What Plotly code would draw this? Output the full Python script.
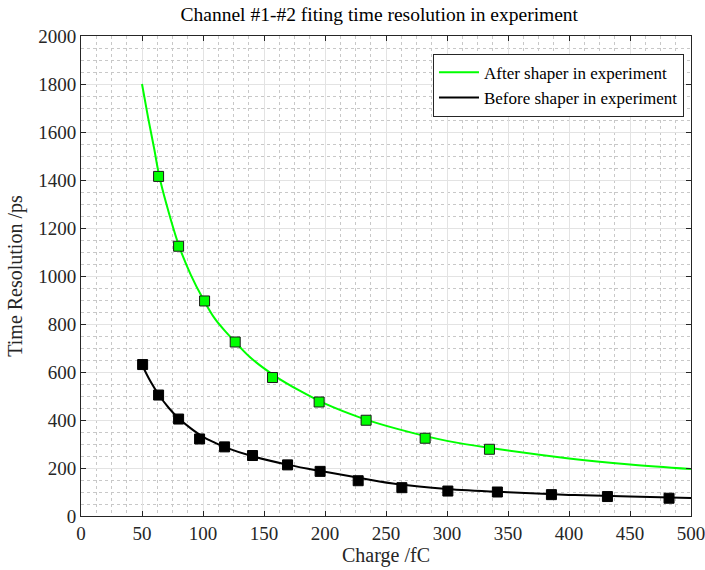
import plotly.graph_objects as go

# Measured points (markers)
after_x = [63.6, 80.0, 101.3, 126.4, 157.0, 195.2, 233.7, 282.1, 334.8]
after_y = [1415, 1124, 896, 725, 577, 475, 399, 324, 278]

before_x = [50.5, 63.6, 80.0, 97.2, 117.7, 140.6, 169.3, 196.0, 227.2, 263.0, 300.7, 341.3, 385.6, 431.5, 482.0]
before_y = [631, 504, 404, 321, 288, 252, 213, 186, 147, 118, 104, 100, 89, 81, 74]

# Fitted curves
fit_after_x = [50, 55, 60, 64, 70, 80, 90, 100, 110, 120, 130, 140, 160, 180, 200, 230, 260, 300, 340, 400, 450, 500]
fit_after_y = [1800, 1660, 1530, 1420, 1300, 1130, 1005, 905, 820, 760, 705, 655, 580, 520, 468, 408, 362, 313, 280, 240, 215, 196]

fit_before_x = [50, 57, 64, 72, 80, 90, 100, 110, 120, 140, 170, 200, 230, 260, 300, 350, 400, 450, 500]
fit_before_y = [630, 560, 503, 450, 407, 365, 330, 305, 283, 250, 213, 184, 157, 132, 113, 99, 88, 81, 75]

GREEN = "#00ff00"
FONT = "Liberation Serif"
AX = "#262626"

fig = go.Figure()
fig.add_trace(go.Scatter(x=fit_after_x, y=fit_after_y, mode="lines",
                         line=dict(color=GREEN, width=2, shape="spline", smoothing=1.0),
                         name="After shaper in experiment"))
fig.add_trace(go.Scatter(x=fit_before_x, y=fit_before_y, mode="lines",
                         line=dict(color="black", width=2, shape="spline", smoothing=1.0),
                         name="Before shaper in experiment"))
fig.add_trace(go.Scatter(x=after_x, y=after_y, mode="markers", showlegend=False,
                         marker=dict(symbol="square", size=10, color=GREEN, line=dict(color="#1a1a1a", width=1))))
fig.add_trace(go.Scatter(x=before_x, y=before_y, mode="markers", showlegend=False,
                         marker=dict(symbol="square", size=10, color="black", line=dict(color="black", width=1))))

axis_common = dict(
    showline=True, linecolor=AX, linewidth=1, mirror="ticks",
    ticks="inside", ticklen=5, tickcolor=AX, automargin=False,
    showgrid=True, gridcolor="#e3e3e3", gridwidth=1, zeroline=False,
    tickfont=dict(family=FONT, size=19, color=AX), ticklabeloverflow="allow",
)

fig.update_xaxes(range=[0, 500], dtick=50, tick0=0,
                 title=dict(text="Charge /fC", font=dict(family=FONT, size=20, color=AX), standoff=4),
                 minor=dict(dtick=12.5, showgrid=True, gridcolor="#c8c8c8", griddash="dot", gridwidth=1, ticks=""),
                 **axis_common)
fig.update_yaxes(range=[0, 2000], dtick=200, tick0=0,
                 title=dict(text="Time Resolution /ps", font=dict(family=FONT, size=20, color=AX), standoff=10),
                 minor=dict(dtick=50, showgrid=True, gridcolor="#c8c8c8", griddash="dot", gridwidth=1, ticks=""),
                 **axis_common)

fig.update_layout(
    width=705, height=570,
    margin=dict(l=81, r=14, t=36, b=54),
    plot_bgcolor="white", paper_bgcolor="white",
    title=dict(text="Channel #1-#2 fiting time resolution in experiment", x=0.538, xanchor="center",
               y=0.975, yanchor="middle", yref="container",
               font=dict(family=FONT, size=19.5, color="black")),
    legend=dict(x=0.9885, y=0.963, xanchor="right", yanchor="top",
                bgcolor="white", bordercolor=AX, borderwidth=1,
                font=dict(family=FONT, size=17, color="black"),
                tracegroupgap=0, itemwidth=40),
    showlegend=True,
)

fig.write_html("out.html", config={"displayModeBar": False},
               post_script="document.body.style.margin='0';document.body.style.padding='0';")
